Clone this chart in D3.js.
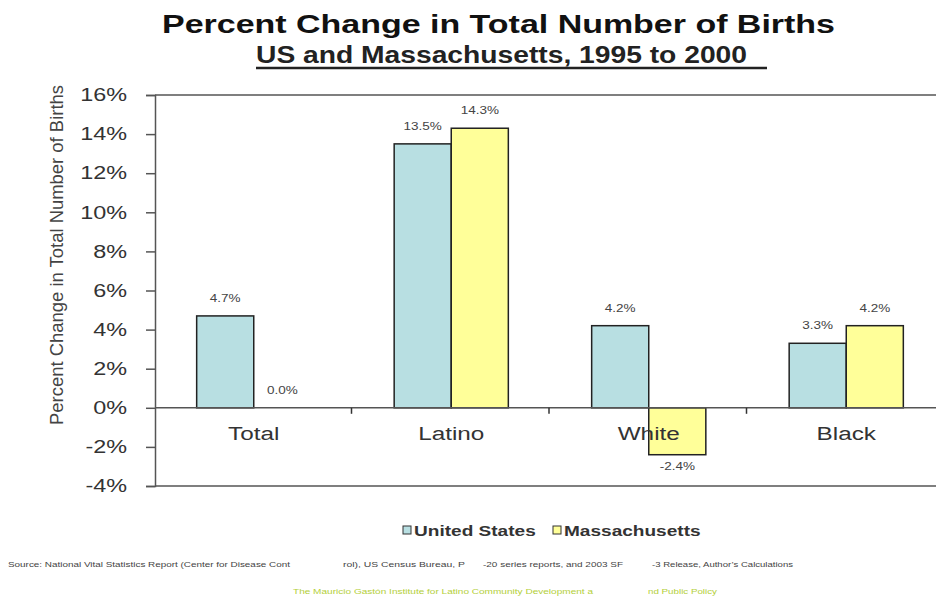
<html lang="en">
<head>
  <meta charset="UTF-8"/>
  <title>Percent Change in Total Number of Births</title>
  <script src="https://d3js.org/d3.v7.min.js"></script>
  <style>
    body { margin: 0; background: #fff; font-family: 'Liberation Sans', Arial, sans-serif; }
    svg { display: block; }
    text { fill: #222; }
    .ytick text { font-size: 18px; fill: #333; }
    text.title { font-size: 26px; font-weight: 700; fill: #111; }
    text.subtitle { font-size: 23px; font-weight: 700; fill: #222; }
    text.cat { font-size: 18px; fill: #333; }
    text.value { font-size: 10px; fill: #444; }
    text.ylabel { font-size: 18px; fill: #444; }
    text.legend { font-size: 15px; font-weight: 700; fill: #333; }
    text.source { font-size: 7.5px; fill: #444; }
    text.inst { font-size: 7.5px; fill: #b4cf3a; }
  </style>
</head>
<body>
<svg width="936" height="597"></svg>
<script>
const categories = ['Total', 'Latino', 'White', 'Black'];
const usValues = [4.7, 13.5, 4.2, 3.3];
const maValues = [0.0, 14.3, -2.4, 4.2];
const seriesNames = ['United States', 'Massachusetts'];
const seriesColors = ['#b8dfe2', '#ffff99'];
const yTicks = [-4, -2, 0, 2, 4, 6, 8, 10, 12, 14, 16];

const svg = d3.select('svg');

const plotLeft = 155, plotRight = 945, plotTop = 95, plotBottom = 486;

// the original picture is wider than tall, so its text looks stretched
function stretch(sel, k) {
  sel.each(function () {
    const w = this.getComputedTextLength();
    d3.select(this).attr('textLength', w * k).attr('lengthAdjust', 'spacingAndGlyphs');
  });
}

const x = d3.scaleBand()
  .domain(categories)
  .range([plotLeft, plotRight])
  .paddingInner(0)
  .paddingOuter(0);

const inner = d3.scaleBand()
  .domain(seriesNames)
  .range([0, x.bandwidth()])
  .paddingInner(0)
  .paddingOuter(0.73);

const y = d3.scaleLinear()
  .domain([-4, 16])
  .range([plotBottom, plotTop]);

// frame lines
svg.append('line')
  .attr('x1', plotLeft).attr('x2', 936)
  .attr('y1', y(16)).attr('y2', y(16))
  .attr('stroke', '#555').attr('stroke-width', 1.5);
svg.append('line')
  .attr('x1', plotLeft).attr('x2', 936)
  .attr('y1', y(-4)).attr('y2', y(-4))
  .attr('stroke', '#555').attr('stroke-width', 1.5);

// y axis
const yAxis = svg.append('g')
  .attr('class', 'ytick')
  .attr('transform', `translate(${plotLeft},0)`)
  .call(d3.axisLeft(y)
    .tickValues(yTicks)
    .tickSize(9)
    .tickPadding(19)
    .tickFormat(d => d + '%'));
yAxis.select('.domain').attr('stroke', '#555').attr('stroke-width', 1.5);
yAxis.selectAll('.tick line').attr('stroke', '#555').attr('stroke-width', 1.5);
yAxis.selectAll('.tick text').attr('font-family', "'Liberation Sans', Arial, sans-serif");
stretch(yAxis.selectAll('.tick text'), 1.3);

// bars
const rows = categories.map((c, i) => ({ cat: c, vals: [usValues[i], maValues[i]] }));

const groups = svg.selectAll('g.grp')
  .data(rows)
  .enter()
  .append('g')
  .attr('class', 'grp')
  .attr('transform', d => `translate(${x(d.cat)},0)`);

groups.selectAll('rect')
  .data(d => d.vals.map((v, k) => ({ v, k })))
  .enter()
  .append('rect')
  .attr('x', d => inner(seriesNames[d.k]))
  .attr('width', inner.bandwidth())
  .attr('y', d => y(Math.max(0, d.v)))
  .attr('height', d => Math.abs(y(d.v) - y(0)))
  .attr('fill', d => seriesColors[d.k])
  .attr('stroke', d => d.v === 0 ? 'none' : '#222')
  .attr('stroke-width', 1.5);

const values = groups.selectAll('text.value')
  .data(d => d.vals.map((v, k) => ({ v, k })))
  .enter()
  .append('text')
  .attr('class', 'value')
  .attr('text-anchor', 'middle')
  .attr('x', d => inner(seriesNames[d.k]) + inner.bandwidth() / 2)
  .attr('y', d => d.v < 0 ? y(d.v) + 15 : y(d.v) - 14)
  .text(d => d.v.toFixed(1) + '%');
stretch(values, 1.35);

// zero line
svg.append('line')
  .attr('x1', plotLeft).attr('x2', 936)
  .attr('y1', y(0)).attr('y2', y(0))
  .attr('stroke', '#555').attr('stroke-width', 1.5);

// category separator ticks
svg.selectAll('line.sep')
  .data(categories.slice(1))
  .enter()
  .append('line')
  .attr('x1', d => x(d) - 1).attr('x2', d => x(d) - 1)
  .attr('y1', y(0)).attr('y2', y(0) + 6)
  .attr('stroke', '#333').attr('stroke-width', 1.5);

// category labels
const catLabels = svg.selectAll('text.cat')
  .data(categories)
  .enter()
  .append('text')
  .attr('class', 'cat')
  .attr('text-anchor', 'middle')
  .attr('x', d => x(d) + x.bandwidth() / 2)
  .attr('y', y(0) + 32)
  .text(d => d);
stretch(catLabels, 1.35);

// y label
svg.append('text')
  .attr('class', 'ylabel')
  .attr('transform', 'translate(63,255) rotate(-90)')
  .attr('text-anchor', 'middle')
  .attr('textLength', 340)
  .attr('lengthAdjust', 'spacingAndGlyphs')
  .text('Percent Change in Total Number of Births');

// titles
svg.append('text')
  .attr('class', 'title')
  .attr('x', 162).attr('y', 33)
  .attr('textLength', 673)
  .attr('lengthAdjust', 'spacingAndGlyphs')
  .text('Percent Change in Total Number of Births');

svg.append('text')
  .attr('class', 'subtitle')
  .attr('x', 256).attr('y', 63)
  .attr('textLength', 491)
  .attr('lengthAdjust', 'spacingAndGlyphs')
  .text('US and Massachusetts, 1995 to 2000');
svg.append('line')
  .attr('x1', 256).attr('x2', 767)
  .attr('y1', 68).attr('y2', 68)
  .attr('stroke', '#222').attr('stroke-width', 2.5);

// legend
const legend = svg.append('g').attr('transform', 'translate(403,536)');
seriesNames.forEach((name, i) => {
  const lx = i === 0 ? 0 : 150;
  legend.append('rect')
    .attr('x', lx).attr('y', -10)
    .attr('width', 8).attr('height', 8)
    .attr('fill', seriesColors[i])
    .attr('stroke', '#333').attr('stroke-width', 1);
  const t = legend.append('text')
    .attr('class', 'legend')
    .attr('x', lx + 11).attr('y', 0)
    .text(name);
  stretch(t, 1.27);
});

// source notes (segments as shown in original)
const sourceParts = [
  ['Source: National Vital Statistics Report (Center for Disease Cont', 8, 282],
  ['rol), US Census Bureau, P', 343, 122],
  ['-20 series reports, and 2003 SF', 483, 140],
  ['-3 Release, Author\u2019s Calculations', 652, 141]
];
sourceParts.forEach(([t, sx, len]) => {
  svg.append('text').attr('class', 'source')
    .attr('x', sx).attr('y', 567)
    .attr('textLength', len).attr('lengthAdjust', 'spacingAndGlyphs')
    .text(t);
});

const instParts = [
  ['The Mauricio Gast\u00f3n Institute for Latino Community Development a', 293, 300],
  ['nd Public Policy', 648, 69]
];
instParts.forEach(([t, sx, len]) => {
  svg.append('text').attr('class', 'inst')
    .attr('x', sx).attr('y', 594)
    .attr('textLength', len).attr('lengthAdjust', 'spacingAndGlyphs')
    .text(t);
});
</script>
</body>
</html>
